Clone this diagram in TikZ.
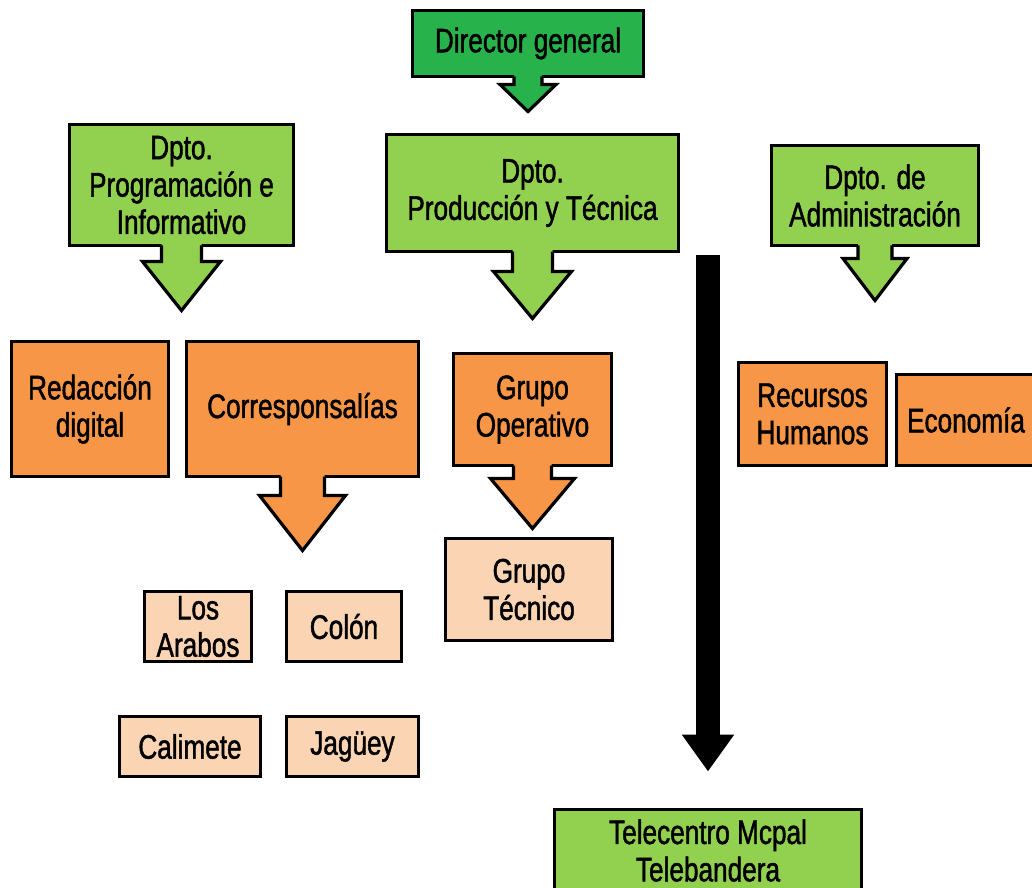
\documentclass[tikz,border=0pt]{standalone}
\usepackage{fontspec}
\setmainfont{Liberation Sans}[FakeStretch=0.77,FakeBold=1.3]
\usetikzlibrary{calc,arrows.meta}
\definecolor{verdeosc}{RGB}{40,178,76}
\definecolor{verdecla}{RGB}{146,208,80}
\definecolor{naranja}{RGB}{247,150,70}
\definecolor{melocoton}{RGB}{251,212,180}
% flecha de llamada: color, nodo, semiancho tallo, semiancho punta, largo tallo, largo punta
\newcommand{\flecha}[6]{%
  \fill[#1] ($(#2.south)+(-#3,-3)$) -- ++(0,#5+3) -- ++(#3-#4,0) -- ++(#4,#6) -- ++(#4,-#6) -- ++(#3-#4,0) -- ++(0,-#5-3) -- cycle;
  \draw[borde] ($(#2.south)+(-#3,0)$) -- ++(0,#5) -- ++(#3-#4,0) -- ++(#4,#6) -- ++(#4,-#6) -- ++(#3-#4,0) -- ++(0,-#5);
}
\begin{document}
\begin{tikzpicture}[x=0.75pt,y=-0.75pt,line join=miter,
  borde/.style={draw=black,line width=2.4pt},
  caja/.style={borde,outer sep=0pt,inner sep=0pt,align=center,font=\fontsize{25.5}{28}\selectfont},
  tam/.style 2 args={minimum width=#1*0.75pt,minimum height=#2*0.75pt}]
\useasboundingbox (0,0) rectangle (1032,888);
% jefes
\node[caja,fill=verdeosc,tam={231}{66}] (dir) at (528,43.5) {Director general};
\node[caja,fill=verdecla,tam={224}{121}] (dpi) at (181.5,185) {Dpto.\\Programación e\\Informativo};
\node[caja,fill=verdecla,tam={292}{117}] (dpp) at (532.5,193) {Dpto.\\Producción y Técnica};
\node[caja,fill=verdecla,tam={207}{100}] (dpa) at (875,195.5) {Dpto. de\\Administración};
% grupos
\node[caja,fill=naranja,tam={157}{135}] (red) at (90,409) {Redacción\\digital};
\node[caja,fill=naranja,tam={232}{135}] (cor) at (302.5,409) {Corresponsalías};
\node[caja,fill=naranja,tam={158}{112}] (gop) at (532.5,409.5) {Grupo\\Operativo};
\node[caja,fill=naranja,tam={148}{103}] (rrh) at (812.5,414) {Recursos\\Humanos};
\node[caja,fill=naranja,tam={139}{91}] (eco) at (966,420) {Economía};
% municipios
\foreach \nom/\x/\y/\w/\h/\txt in {ara/198/626.5/107/70/{Los\\Arabos},col/344/626.5/115/70/{Colón},
  cal/190/746.5/141/60/{Calimete},jag/352.5/746.5/132/60/{Jagüey},gte/529/589.5/167/102/{Grupo\\Técnico}}
  \node[caja,fill=melocoton,tam={\w}{\h}] (\nom) at (\x,\y) {\txt};
\node[caja,fill=verdecla,tam={307}{82}] (tel) at (708,850.5) {Telecentro Mcpal\\Telebandera};
% flechas
\flecha{verdeosc}{dir}{14}{28}{8}{27}
\flecha{verdecla}{dpi}{20}{39}{16}{49}
\flecha{verdecla}{dpp}{20}{39}{20}{47}
\flecha{verdecla}{dpa}{17}{32}{13}{42}
\flecha{naranja}{cor}{22}{43}{19}{55}
\flecha{naranja}{gop}{19}{42}{13}{50}
\coordinate (ini) at ($(tel.north |- dpp.south)+(0,3)$);
\coordinate (fin) at ($(tel.north)+(0,-38)$);
\draw[line width=18pt,-{Triangle[width=37.5pt,length=27.75pt]}] (ini) -- (fin);
\end{tikzpicture}
\end{document}
